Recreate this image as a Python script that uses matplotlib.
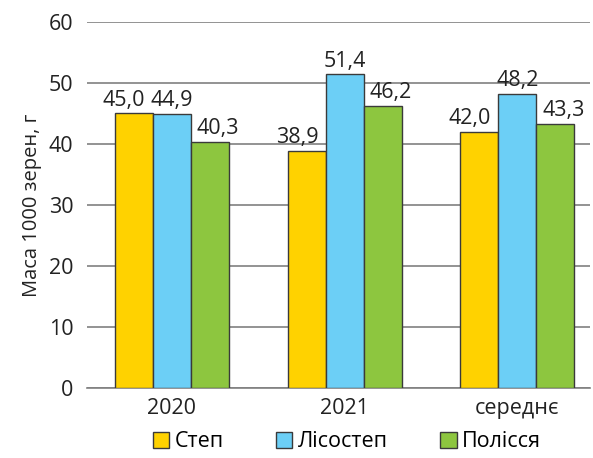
import matplotlib as mplt
mplt.use("Agg")
import matplotlib.pyplot as plt
import numpy as np

plt.rcParams["font.family"] = ["Open Sans", "DejaVu Sans"]

categories = ["2020", "2021", "середнє"]
series = ["Степ", "Лісостеп", "Полісся"]
steppe = [45.0, 38.9, 42.0]
forest_steppe = [44.9, 51.4, 48.2]
polissia = [40.3, 46.2, 43.3]

colors = ["#FFD200", "#6CCFF6", "#8DC63F"]
label_shift = [-7, 0, 6]  # label offsets in points, as in the original layout

fig = plt.figure(figsize=(5.93, 4.58), dpi=100)
ax = fig.add_axes([0.147, 0.153, 0.848, 0.799])

x = np.arange(len(categories))
w = 0.22
for i, (vals, name) in enumerate(zip([steppe, forest_steppe, polissia], series)):
    pos = x + (i - 1) * w
    ax.bar(pos, vals, w, color=colors[i], edgecolor="#3a3a3a", linewidth=1,
           label=name, zorder=3)
    for px, v in zip(pos, vals):
        ax.annotate(f"{v:.1f}".replace(".", ","), (px, v),
                    xytext=(label_shift[i], 2), textcoords="offset points",
                    ha="center", va="bottom", fontsize=15.5, color="#222222")

ax.set_xlim(-0.49, 2.42)
ax.set_ylim(0, 60)
ax.set_yticks(range(0, 61, 10))
ax.set_xticks(x)
ax.set_xticklabels(categories)
ax.tick_params(length=0, labelsize=15.5, colors="#222222")
ax.tick_params(axis="y", pad=10)
ax.tick_params(axis="x", pad=7)
for s in ["top", "right", "left"]:
    ax.spines[s].set_visible(False)
ax.spines["bottom"].set_color("#808080")
ax.spines["bottom"].set_linewidth(1.2)
ax.yaxis.grid(True, color="#808080", linewidth=1.2, zorder=0)
ax.set_axisbelow(True)
ax.set_ylabel("Маса 1000 зерен, г", fontsize=14.5, color="#222222", labelpad=5)

fig.legend(loc="lower center", bbox_to_anchor=(0.585, -0.03), ncol=3,
           frameon=False, fontsize=15.5, handlelength=0.75, handleheight=0.75,
           handletextpad=0.25, columnspacing=2.45)

plt.savefig("out.png", dpi=100)
